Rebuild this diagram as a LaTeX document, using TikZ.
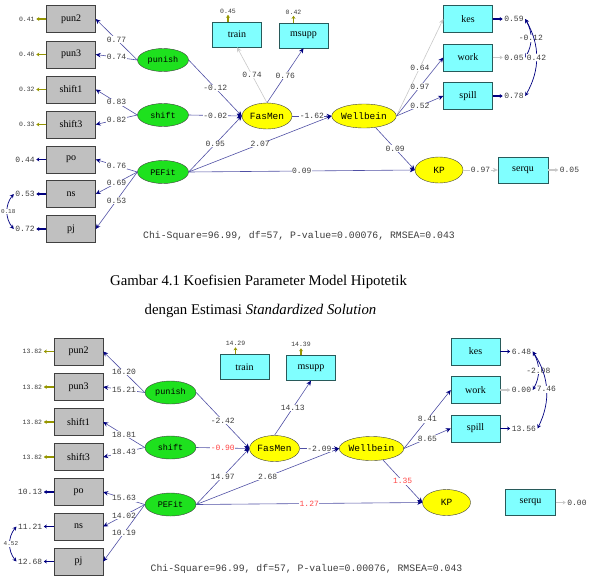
\documentclass[tikz,border=0pt]{standalone}
\usepackage{fontspec}
\setmainfont{Liberation Serif}
\setmonofont{Liberation Mono}
\usepackage{tikz}
\usetikzlibrary{shapes.geometric, arrows.meta}
\definecolor{pathblue}{RGB}{80,80,165}
\definecolor{navyhead}{RGB}{0,0,128}
\definecolor{oliveerr}{RGB}{150,150,0}
\definecolor{lightline}{RGB}{200,200,200}
\definecolor{boxgray}{RGB}{192,192,192}
\definecolor{boxline}{RGB}{64,64,64}
\definecolor{cyanfill}{RGB}{128,255,255}
\definecolor{cyanline}{RGB}{40,90,90}
\definecolor{latgreen}{RGB}{30,225,30}
\definecolor{latyellow}{RGB}{255,255,0}
\definecolor{numgray}{RGB}{60,60,60}
\definecolor{numred}{RGB}{255,70,70}

\tikzset{
 obs/.style={draw=boxline, fill=boxgray, minimum width=49pt, minimum height=27pt, inner sep=0pt, font=\fontsize{10}{11}\selectfont},
 obsc/.style={obs, fill=cyanfill, draw=cyanline},
 latg/.style={ellipse, draw=black!75, fill=latgreen, minimum width=51pt, minimum height=23pt, inner sep=0pt, font=\ttfamily\fontsize{8.5}{9}\selectfont},
 laty/.style={latg, fill=latyellow, minimum width=50pt, minimum height=26pt, font=\ttfamily\fontsize{9.5}{10}\selectfont},
 pth/.style={draw=pathblue, line width=0.6pt, -{Stealth[length=5pt,width=4.5pt,color=navyhead]}},
 pthg/.style={draw=lightline, line width=0.6pt, -{Stealth[length=5pt,width=4.5pt]}},
 errb/.style={draw=navyhead, line width=1.3pt, -{Stealth[length=3pt,width=4pt]}},
 erro/.style={draw=oliveerr, line width=1.3pt, -{Stealth[length=3pt,width=4pt]}},
 errg/.style={draw=lightline, line width=1.3pt, -{Stealth[length=3pt,width=4pt]}},
 cov/.style={draw=navyhead, line width=0.7pt, {Stealth[length=4pt,width=4pt]}-{Stealth[length=4pt,width=4pt]}},
 pnum/.style={fill=white, inner sep=0.6pt, text=numgray, font=\ttfamily\fontsize{8}{9}\selectfont},
 pred/.style={pnum, text=numred},
 csml/.style={pnum, font=\ttfamily\fontsize{6}{7}\selectfont},
 enum/.style={inner sep=1pt, text=numgray, font=\ttfamily\fontsize{8}{9}\selectfont},
 esml/.style={enum, font=\ttfamily\fontsize{6.5}{7}\selectfont},
 chi/.style={text=numgray, font=\ttfamily\fontsize{9.8}{11}\selectfont},
 capt/.style={font=\fontsize{14.8}{16}\selectfont},
}

% nodes shared by both models
\newcommand{\lisrelnodes}{%
 \node[obs] (pun2) at (71,19) {pun2};
 \node[obs] (pun3) at (71,54.5) {pun3};
 \node[obs] (shift1) at (71,89.5) {shift1};
 \node[obs] (shift3) at (71,124.5) {shift3};
 \node[obs] (po) at (71,159.5) {po};
 \node[obs] (ns) at (71,194) {ns};
 \node[obs] (pj) at (71,229) {pj};
 \node[latg] (punish) at (163,60) {punish};
 \node[latg] (shift) at (163,115) {shift};
 \node[latg] (PEFit) at (163,172) {PEFit};
 \node[laty] (FasMen) at (267,116) {FasMen};
 \node[laty, minimum width=51pt, minimum height=24pt] (Wellbein) at (364,116) {Wellbein};
 \node[laty, minimum width=48pt] (KP) at (439,170) {KP};
 \node[obsc, minimum height=25pt] (train) at (237,34.5) {train};
 \node[obsc, minimum height=25pt] (msupp) at (303.5,35.5) {msupp};
 \node[obsc] (kes) at (468,19) {kes};
 \node[obsc] (work) at (468,57.5) {work};
 \node[obsc] (spill) at (468,96) {spill};
 \node[obsc, minimum width=50pt, minimum height=26pt] (serqu) at (523,170) {serqu};
}

\begin{document}
\begin{tikzpicture}[x=1pt,y=-1pt]
 \useasboundingbox (0,0) rectangle (596,576);

 % standardized solution
 \begin{scope}[name prefix=s-]
 \lisrelnodes
 \draw[pth] (punish.west) -- node[pnum] {0.77} (pun2.east);
 \draw[pth] (punish.west) -- node[pnum] {0.74} (pun3.east);
 \draw[pth] (shift.west) -- node[pnum] {0.83} (shift1.east);
 \draw[pth] (shift.west) -- node[pnum] {0.82} (shift3.east);
 \draw[pth] (PEFit.west) -- node[pnum] {0.76} (po.east);
 \draw[pth] (PEFit.west) -- node[pnum] {0.69} (ns.east);
 \draw[pth] (PEFit.west) -- node[pnum] {0.53} (pj.east);
 \draw[pth] (punish.east) -- node[pnum] {-0.12} (FasMen.west);
 \draw[pth] (shift.east) -- node[pnum] {-0.02} (FasMen.west);
 \draw[pth] (PEFit.east) -- node[pnum] {0.95} (FasMen.west);
 \draw[pth] (PEFit.east) -- node[pnum] {2.07} (Wellbein.west);
 \draw[pth] (PEFit.east) -- node[pnum] {0.09} (KP.west);
 \draw[pth] (FasMen.east) -- node[pnum] {-1.62} (Wellbein.west);
 \draw[pthg] (FasMen.north) -- node[pnum] {0.74} (train.south);
 \draw[pth] (FasMen.north) -- node[pnum] {0.76} (msupp.south);
 \draw[pthg] (Wellbein.east) -- node[pnum] {0.64} (kes.west);
 \draw[pth] (Wellbein.east) -- node[pnum] {0.97} (work.west);
 \draw[pth] (Wellbein.east) -- node[pnum] {0.52} (spill.west);
 \draw[pth] (Wellbein.-45) -- node[pnum] {0.09} (KP.west);
 \draw[pthg] (KP.east) -- node[pnum] {0.97} (serqu.west);
 % error terms
 \draw[erro] (pun2.west) -- ++(-10,0) node[esml, left] {0.41};
 \draw[erro] (pun3.west) -- ++(-10,0) node[esml, left] {0.46};
 \draw[erro] (shift1.west) -- ++(-10,0) node[esml, left] {0.32};
 \draw[erro] (shift3.west) -- ++(-10,0) node[esml, left] {0.33};
 \draw[errb] (po.west) -- ++(-10,0) node[enum, left] {0.44};
 \draw[errb] (ns.west) -- ++(-10,0) node[enum, left] (ns-n) {0.53};
 \draw[errb] (pj.west) -- ++(-10,0) node[enum, left] (pj-n) {0.72};
 \draw[erro] ([xshift=-9pt]train.north) -- ++(0,-7) node[esml, above] {0.45};
 \draw[erro] ([xshift=-10pt]msupp.north) -- ++(0,-7) node[esml, above] {0.42};
 \draw[errb] (kes.east) -- ++(10,0) node[enum, right] (kes-n) {0.59};
 \draw[errg] (work.east) -- ++(10,0) node[enum, right] (work-n) {0.05};
 \draw[errb] (spill.east) -- ++(10,0) node[enum, right] (spill-n) {0.78};
 \draw[errg] (serqu.east) -- ++(10,0) node[enum, right] {0.05};
 \draw[cov] (ns-n.west) to[bend right=40] node[csml, xshift=1pt] {0.18} (pj-n.west);
 \draw[cov] (kes-n.east) to[bend left=30] node[pnum] {-0.12} (work-n.east);
 \draw[cov] (kes-n.east) to[bend left=30] node[pnum] {0.42} (spill-n.east);
 \node[chi] (chi) at (299,236) {Chi-Square=96.99, df=57, P-value=0.00076, RMSEA=0.043};
 \end{scope}

 \node[capt] (cap1) at (258.5,282) {Gambar 4.1 Koefisien Parameter Model Hipotetik};
 \node[capt] (cap2) at (260.5,311) {dengan Estimasi \textit{Standardized Solution}};

 % t-values
 \begin{scope}[shift={(7.5,332.5)}, name prefix=t-]
 \lisrelnodes
 \draw[pth] (punish.west) -- node[pnum] {16.20} (pun2.east);
 \draw[pth] (punish.west) -- node[pnum] {15.21} (pun3.east);
 \draw[pth] (shift.west) -- node[pnum] {18.81} (shift1.east);
 \draw[pth] (shift.west) -- node[pnum] {18.43} (shift3.east);
 \draw[pth] (PEFit.west) -- node[pnum] {15.63} (po.east);
 \draw[pth] (PEFit.west) -- node[pnum] {14.02} (ns.east);
 \draw[pth] (PEFit.west) -- node[pnum] {10.19} (pj.east);
 \draw[pth] (punish.east) -- node[pnum] {-2.42} (FasMen.west);
 \draw[pth] (shift.east) -- node[pred] {-0.90} (FasMen.west);
 \draw[pth] (PEFit.east) -- node[pnum] {14.97} (FasMen.west);
 \draw[pth] (PEFit.east) -- node[pnum] {2.68} (Wellbein.west);
 \draw[pth] (PEFit.east) -- node[pred] {1.27} (KP.west);
 \draw[pth] (FasMen.east) -- node[pnum] {-2.09} (Wellbein.west);
 \draw[pth] (FasMen.north) -- node[pnum] {14.13} (msupp.south);
 \draw[pth] (Wellbein.east) -- node[pnum] {8.41} (work.west);
 \draw[pth] (Wellbein.east) -- node[pnum] {8.65} (spill.west);
 \draw[pth] (Wellbein.-45) -- node[pred] {1.35} (KP.west);
 % error terms
 \draw[erro] (pun2.west) -- ++(-10,0) node[esml, left] {13.82};
 \draw[erro] (pun3.west) -- ++(-10,0) node[esml, left] {13.82};
 \draw[erro] (shift1.west) -- ++(-10,0) node[esml, left] {13.82};
 \draw[erro] (shift3.west) -- ++(-10,0) node[esml, left] {13.82};
 \draw[errb] (po.west) -- ++(-10,0) node[enum, left] {10.13};
 \draw[errb] (ns.west) -- ++(-10,0) node[enum, left] (ns-n) {11.21};
 \draw[errb] (pj.west) -- ++(-10,0) node[enum, left] (pj-n) {12.68};
 \draw[erro] ([xshift=-9pt]train.north) -- ++(0,-7) node[esml, above] {14.29};
 \draw[erro] ([xshift=-10pt]msupp.north) -- ++(0,-7) node[esml, above] {14.39};
 \draw[errb] (kes.east) -- ++(10,0) node[enum, right] (kes-n) {6.48};
 \draw[errg] (work.east) -- ++(10,0) node[enum, right] (work-n) {0.00};
 \draw[errb] (spill.east) -- ++(10,0) node[enum, right] (spill-n) {13.56};
 \draw[errg] (serqu.east) -- ++(10,0) node[enum, right] {0.00};
 \draw[cov] (ns-n.west) to[bend right=40] node[csml, xshift=1pt] {4.52} (pj-n.west);
 \draw[cov] (kes-n.east) to[bend left=30] node[pnum] {-2.08} (work-n.east);
 \draw[cov] (kes-n.east) to[bend left=30] node[pnum] {7.46} (spill-n.east);
 \node[chi] (chi) at (299,236) {Chi-Square=96.99, df=57, P-value=0.00076, RMSEA=0.043};
 \end{scope}
\end{tikzpicture}
\end{document}
